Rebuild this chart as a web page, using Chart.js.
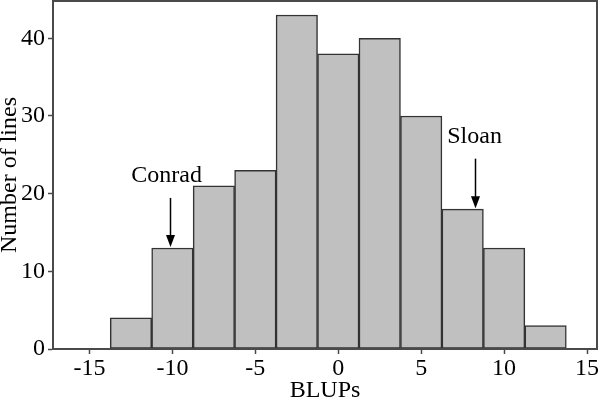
<!DOCTYPE html>
<html>
<head>
<meta charset="utf-8">
<script src="https://cdn.jsdelivr.net/npm/chart.js@4"></script>
<style>
  html, body { margin: 0; padding: 0; background: #fff; }
  #wrap { width: 600px; height: 406px; }
</style>
</head>
<body>
<div id="wrap"><canvas id="histChart"></canvas></div>
<script>
// bin centres (BLUPs) and counts
const binCenters = [-12.5, -10, -7.5, -5, -2.5, 0, 2.5, 5, 7.5, 10, 12.5];
const lineCounts = [4, 13, 21, 23, 43, 38, 40, 30, 18, 13, 3];

// annotated cultivars: label, text x, arrow x, arrow start / end (counts)
const noteLabels = ["Conrad", "Sloan"];
const noteTextX = [-10.35, 8.22];
const noteArrowX = [-10.14, 8.23];
const noteArrowFrom = [19.45, 24.5];
const noteArrowTo = [13, 18];

const xTicks = [-15, -10, -5, 0, 5, 10, 15];
const yTicks = [0, 10, 20, 30, 40];

const serif = "'Liberation Serif', 'Times New Roman', serif";
const axisColor = "#4a4a4a";

const framePlugin = {
  id: "frame",
  afterDraw(chart) {
    const { ctx, chartArea } = chart;
    ctx.save();
    ctx.strokeStyle = axisColor;
    ctx.lineWidth = 2;
    ctx.strokeRect(chartArea.left, chartArea.top, chartArea.right - chartArea.left, chartArea.bottom - chartArea.top);
    ctx.restore();
  },
};

const notesPlugin = {
  id: "notes",
  afterDatasetsDraw(chart) {
    const { ctx } = chart;
    const xs = chart.scales.x;
    const ys = chart.scales.y;
    ctx.save();
    noteLabels.forEach((label, i) => {
      const x = Math.round(xs.getPixelForValue(noteArrowX[i])) + 0.5;
      const y0 = ys.getPixelForValue(noteArrowFrom[i]);
      const y1 = ys.getPixelForValue(noteArrowTo[i]) - 1;
      ctx.strokeStyle = "#000";
      ctx.fillStyle = "#000";
      ctx.lineWidth = 1.5;
      ctx.beginPath();
      ctx.moveTo(x, y0);
      ctx.lineTo(x, y1 - 10);
      ctx.stroke();
      ctx.beginPath();
      ctx.moveTo(x - 4.5, y1 - 12);
      ctx.lineTo(x + 4.5, y1 - 12);
      ctx.lineTo(x, y1);
      ctx.closePath();
      ctx.fill();
      ctx.font = "24px " + serif;
      ctx.textAlign = "center";
      ctx.textBaseline = "alphabetic";
      ctx.fillText(label, xs.getPixelForValue(noteTextX[i]), y0 - 16);
    });
    ctx.restore();
  },
};

function drawChart() {
  new Chart(document.getElementById("histChart"), {
    type: "bar",
    data: {
      datasets: [
        {
          data: binCenters.map((c, i) => ({ x: c, y: lineCounts[i] })),
          backgroundColor: "#c0c0c0",
          borderColor: "#333",
          borderWidth: 1.5,
          borderSkipped: false,
          barPercentage: 1,
          categoryPercentage: 1,
        },
      ],
    },
    options: {
      responsive: true,
      maintainAspectRatio: false,
      animation: false,
      layout: { padding: { top: 1, right: 3, left: 0, bottom: 0 } },
      plugins: {
        legend: { display: false },
        tooltip: { enabled: false },
      },
      scales: {
        x: {
          type: "linear",
          min: -17.2,
          max: 15.6,
          offset: false,
          afterFit(scale) {
            scale.height = 57;
            scale.paddingLeft = 0;
            scale.paddingRight = 0;
          },
          afterBuildTicks(scale) { scale.ticks = xTicks.map((v) => ({ value: v })); },
          ticks: {
            color: "#000",
            padding: 3,
            font: { family: serif, size: 24, lineHeight: 1 },
            maxRotation: 0,
          },
          grid: { display: true, drawOnChartArea: false, drawTicks: true, tickLength: 5, tickWidth: 1.5, color: axisColor, offset: false },
          border: { display: true, color: axisColor, width: 2 },
          title: {
            display: true,
            text: "BLUPs",
            color: "#000",
            font: { family: serif, size: 24, lineHeight: 1 },
            padding: { top: 0, bottom: 3 },
          },
        },
        y: {
          min: 0,
          max: 44.8,
          afterFit(scale) {
            scale.width = 53;
            scale.paddingTop = 0;
            scale.paddingBottom = 0;
          },
          afterBuildTicks(scale) { scale.ticks = yTicks.map((v) => ({ value: v })); },
          ticks: {
            color: "#000",
            padding: 3,
            font: { family: serif, size: 24, lineHeight: 1 },
          },
          grid: { display: true, drawOnChartArea: false, drawTicks: true, tickLength: 5, tickWidth: 1.5, color: axisColor },
          border: { display: true, color: axisColor, width: 2 },
          title: {
            display: true,
            text: "Number of lines",
            color: "#000",
            font: { family: serif, size: 24, lineHeight: 1 },
            padding: { top: -2, bottom: 0 },
          },
        },
      },
    },
    plugins: [framePlugin, notesPlugin],
  });
}

document.fonts.load("24px 'Liberation Serif'").then(drawChart, drawChart);
</script>
</body>
</html>
